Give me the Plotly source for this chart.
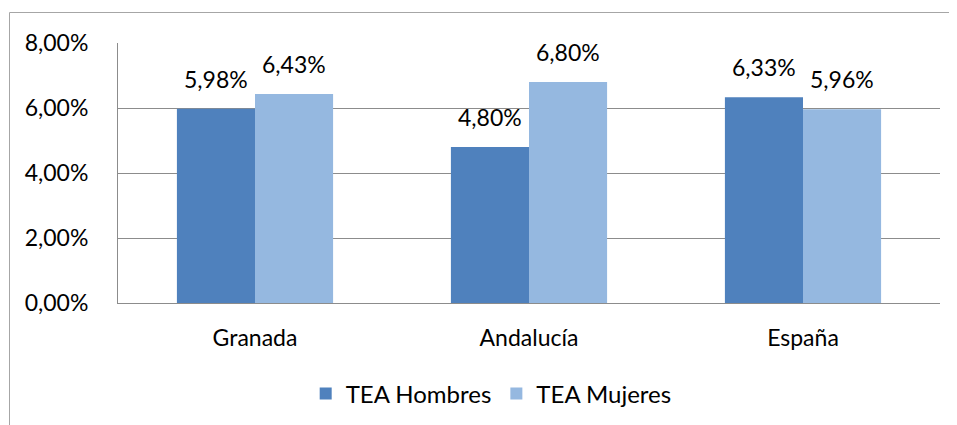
import plotly.graph_objects as go

categories = ["Granada", "Andalucía", "España"]
hombres = [0.0598, 0.0480, 0.0633]
mujeres = [0.0643, 0.0680, 0.0596]
series_names = ["TEA Hombres", "TEA Mujeres"]
y_ticks = [0, 0.02, 0.04, 0.06, 0.08]

FONT = "Lato"
FS = 23
C1 = "#4F81BD"
C2 = "#95B8E0"
GRID = "#8C8C8C"

fig = go.Figure()
fig.add_trace(go.Bar(x=categories, y=hombres, name=series_names[0], marker=dict(color=C1, line=dict(width=0))))
fig.add_trace(go.Bar(x=categories, y=mujeres, name=series_names[1], marker=dict(color=C2, line=dict(width=0))))

ann = []
for i, c in enumerate(categories):
    for vals, shift in ((hombres, -39), (mujeres, 39)):
        v = vals[i]
        ann.append(dict(x=c, y=v, xref="x", yref="y", xshift=shift, yshift=14,
                        yanchor="bottom", showarrow=False,
                        text=f"{v*100:.2f}%".replace(".", ","),
                        font=dict(family=FONT, size=FS, color="#000")))

# page has an 8px body margin; plot area should sit at screen x 118..940, y 43..303
W0, H0 = 118, 303
PW, PH = 822, 260
def px(x):
    return (x - W0) / PW
def py(y):
    return (H0 - y) / PH

fig.update_layout(
    width=957, height=425,
    margin=dict(l=110, r=25, t=35, b=130),
    paper_bgcolor="white", plot_bgcolor="white",
    separators=",.",
    barmode="group", bargap=0.43, bargroupgap=0,
    font=dict(family=FONT, size=FS, color="#000"),
    showlegend=True,
    legend=dict(orientation="h", x=0.454, xanchor="center", y=py(394), yanchor="middle",
                font=dict(family=FONT, size=24), itemwidth=30, traceorder="normal"),
    annotations=ann,
    shapes=[dict(type="rect", xref="paper", yref="paper",
                 x0=px(9.5), x1=px(965), y0=py(440), y1=py(12.5),
                 line=dict(color="#A6A6A6", width=1), layer="below")],
    xaxis=dict(showline=True, linecolor=GRID, linewidth=1, ticks="", showgrid=False,
               tickfont=dict(family=FONT, size=FS), ticklabelstandoff=14),
    yaxis=dict(range=[0, 0.08], tickvals=y_ticks, tickformat=".2%", showgrid=True,
               gridcolor=GRID, gridwidth=1, showline=True, linecolor=GRID, linewidth=1,
               zeroline=False, ticks="", tickfont=dict(family=FONT, size=FS),
               ticklabelstandoff=24),
)

fig.write_html("out.html")
